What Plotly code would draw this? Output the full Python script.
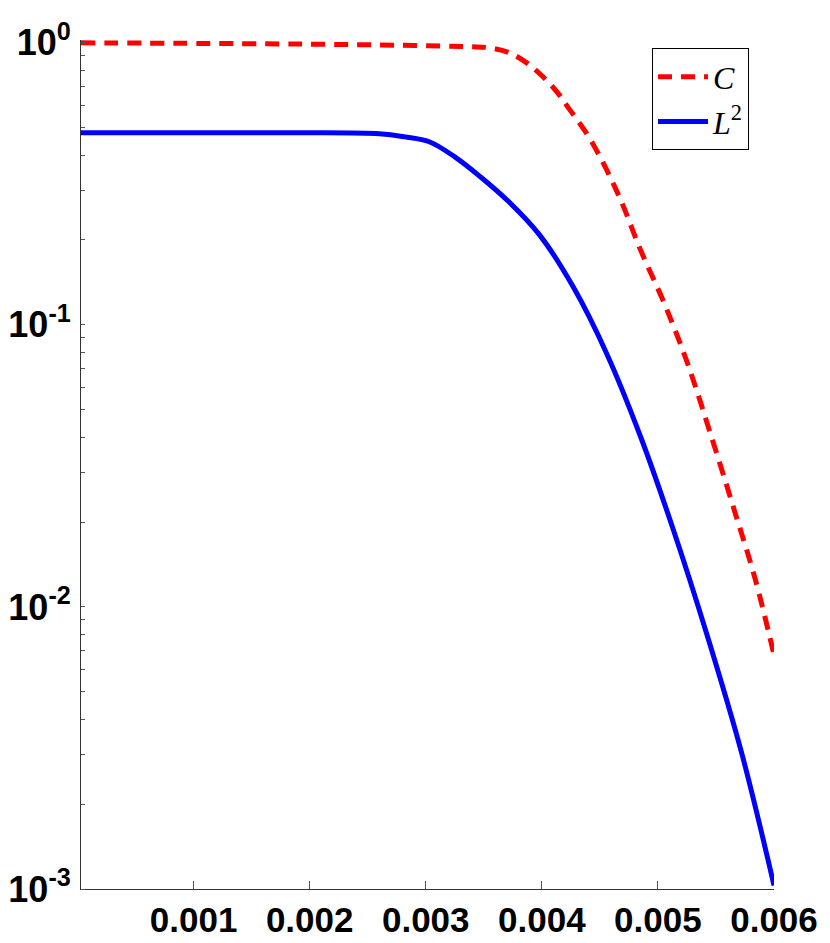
import plotly.graph_objects as go

# values (log y axis)
x_l2 = [0.00003, 0.0019, 0.0026, 0.00282, 0.00303, 0.00325, 0.00347, 0.00372,
        0.00398, 0.00427, 0.00456, 0.00485, 0.00514, 0.00543, 0.00572, 0.006]
y_l2 = [0.480, 0.480, 0.476, 0.464, 0.446, 0.394, 0.335, 0.272,
        0.2085, 0.1364, 0.0789, 0.0402, 0.0184, 0.00779, 0.00305, 0.00103]

x_c = [0.00003, 0.0019, 0.00278, 0.00338, 0.00355, 0.00372, 0.00387, 0.00401,
       0.00413, 0.00422, 0.00442, 0.00466, 0.00485, 0.00506, 0.00526, 0.00546,
       0.00566, 0.00584, 0.006]
y_c = [1.0, 0.99, 0.98, 0.968, 0.96, 0.922, 0.849, 0.758,
       0.670, 0.595, 0.453, 0.289, 0.1845, 0.1178, 0.0721, 0.0402,
       0.0219, 0.01247, 0.00676]

x_ticks = [0.001, 0.002, 0.003, 0.004, 0.005, 0.006]
y_ticks = [1, 0.1, 0.01, 0.001]
y_ticktext = ['<b>10<sup>0</sup></b>', '<b>10<sup>-1</sup></b>',
              '<b>10<sup>-2</sup></b>', '<b>10<sup>-3</sup></b>']

fig = go.Figure()
fig.add_trace(go.Scatter(
    x=x_c, y=y_c, mode='lines', name='<i>C</i>', line_shape='spline',
    line=dict(color='#ff0000', width=5, dash='14px,9px', smoothing=1)))
fig.add_trace(go.Scatter(
    x=x_l2, y=y_l2, mode='lines', name='<i>L</i><sup>2</sup>', line_shape='spline',
    line=dict(color='#0000ff', width=5, smoothing=1)))

# page body has an 8px margin, so the figure is a bit smaller than the window
fig.update_layout(
    width=822, height=935,
    margin=dict(l=73, r=56, t=32, b=54),
    plot_bgcolor='white', paper_bgcolor='white',
    font=dict(family='Liberation Sans', color='black'),
    showlegend=True,
    legend=dict(
        x=0.824, y=0.99, xanchor='left', yanchor='top',
        bordercolor='black', borderwidth=1, bgcolor='white',
        font=dict(family='Liberation Serif', size=32),
        tracegroupgap=0, itemwidth=50,
    ),
)
fig.update_xaxes(
    range=[0.00003, 0.006], tickvals=x_ticks,
    ticktext=[f'<b>{v:.3f}</b>' for v in x_ticks],
    tickfont=dict(size=35), showgrid=False, zeroline=False, automargin=False,
    showline=True, linecolor='#333333', linewidth=1,
    ticks='inside', ticklen=8, tickcolor='#555555', ticklabelstandoff=0,
)
fig.update_yaxes(
    type='log', range=[-3, 0.01], tickvals=y_ticks, ticktext=y_ticktext,
    tickfont=dict(size=36), showgrid=False, zeroline=False, automargin=False,
    showline=True, linecolor='#333333', linewidth=1,
    ticks='', ticklabelstandoff=2,
    minor=dict(ticks='inside', ticklen=4, tickcolor='#555555', dtick='D1', showgrid=False),
)

fig.write_html('out.html')
